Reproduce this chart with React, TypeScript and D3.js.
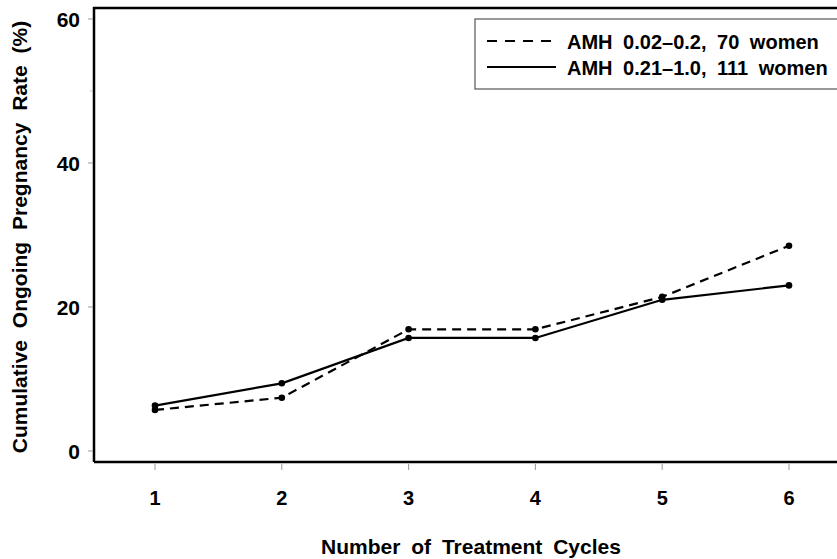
import React from "react";
import * as d3 from "d3";

const cycles = [1, 2, 3, 4, 5, 6];
const lowAmh = [5.7, 7.4, 16.9, 16.9, 21.4, 28.5];
const midAmh = [6.3, 9.4, 15.7, 15.7, 21.0, 23.0];
const yTicks = [0, 20, 40, 60];
const yMinorTicks = [50];
const seriesLabels = ["AMH 0.02\u20130.2, 70 women", "AMH 0.21\u20131.0, 111 women"];

export default function App() {
  const W = 837, H = 559;
  const left = 94, top = 8, bottom = 462;
  const x = d3.scaleLinear().domain([1, 6]).range([155, 789]);
  const y = d3.scaleLinear().domain([0, 60]).range([451, 19]);
  const line = d3.line<number>().x((_, i) => x(cycles[i])).y((d) => y(d));
  const font = "'Liberation Sans', Arial, sans-serif";
  const series = [
    { vals: lowAmh, dash: "9,6" },
    { vals: midAmh, dash: undefined as string | undefined },
  ];
  return (
    <svg width={W} height={H} style={{ position: "absolute", left: 0, top: 0, background: "#fff" }} fontFamily={font}>
      <rect x={0} y={0} width={W} height={H} fill="#fff" />
      <path d={`M${left},${bottom} V${top} H${W + 5}`} fill="none" stroke="#000" strokeWidth={2.5} />
      <line x1={left} x2={W + 5} y1={bottom} y2={bottom} stroke="#000" strokeWidth={2.5} />
      {yTicks.map((t) => (
        <g key={t}>
          <line x1={left - 6} x2={left - 1} y1={y(t)} y2={y(t)} stroke="#999" strokeWidth={1} />
          <text x={80} y={y(t)} dy="0.36em" textAnchor="end" fontSize={21} fontWeight="bold">{t}</text>
        </g>
      ))}
      {yMinorTicks.map((t) => (
        <line key={t} x1={left - 4} x2={left - 1} y1={y(t)} y2={y(t)} stroke="#bbb" strokeWidth={1} />
      ))}
      {cycles.map((c) => (
        <g key={c}>
          <line x1={x(c)} x2={x(c)} y1={bottom + 2} y2={bottom + 8} stroke="#999" strokeWidth={1} />
          <text x={x(c)} y={498} dy="0.36em" textAnchor="middle" fontSize={20} fontWeight="bold">{c}</text>
        </g>
      ))}
      <text x={471} y={554} textAnchor="middle" fontSize={21} fontWeight="bold" wordSpacing={5}>Number of Treatment Cycles</text>
      <text transform={`translate(27,237) rotate(-90)`} textAnchor="middle" fontSize={21} fontWeight="bold" wordSpacing={6}>Cumulative Ongoing Pregnancy Rate (%)</text>
      {series.map((s, i) => (
        <g key={i}>
          <path d={line(s.vals) || ""} fill="none" stroke="#000" strokeWidth={2.2} strokeDasharray={s.dash} />
          {s.vals.map((v, j) => (
            <circle key={j} cx={x(cycles[j])} cy={y(v)} r={3.3} fill="#000" />
          ))}
        </g>
      ))}
      <rect x={475} y={19} width={W} height={70} fill="#fff" stroke="#555" strokeWidth={1.2} />
      {seriesLabels.map((lab, i) => (
        <g key={i}>
          <line x1={487} x2={556} y1={41 + i * 26} y2={41 + i * 26} stroke="#000" strokeWidth={2} strokeDasharray={series[i].dash ? "10,8" : undefined} />
          <text x={567} y={42 + i * 26} dy="0.36em" fontSize={20} fontWeight="bold" wordSpacing={5}>{lab}</text>
        </g>
      ))}
    </svg>
  );
}
